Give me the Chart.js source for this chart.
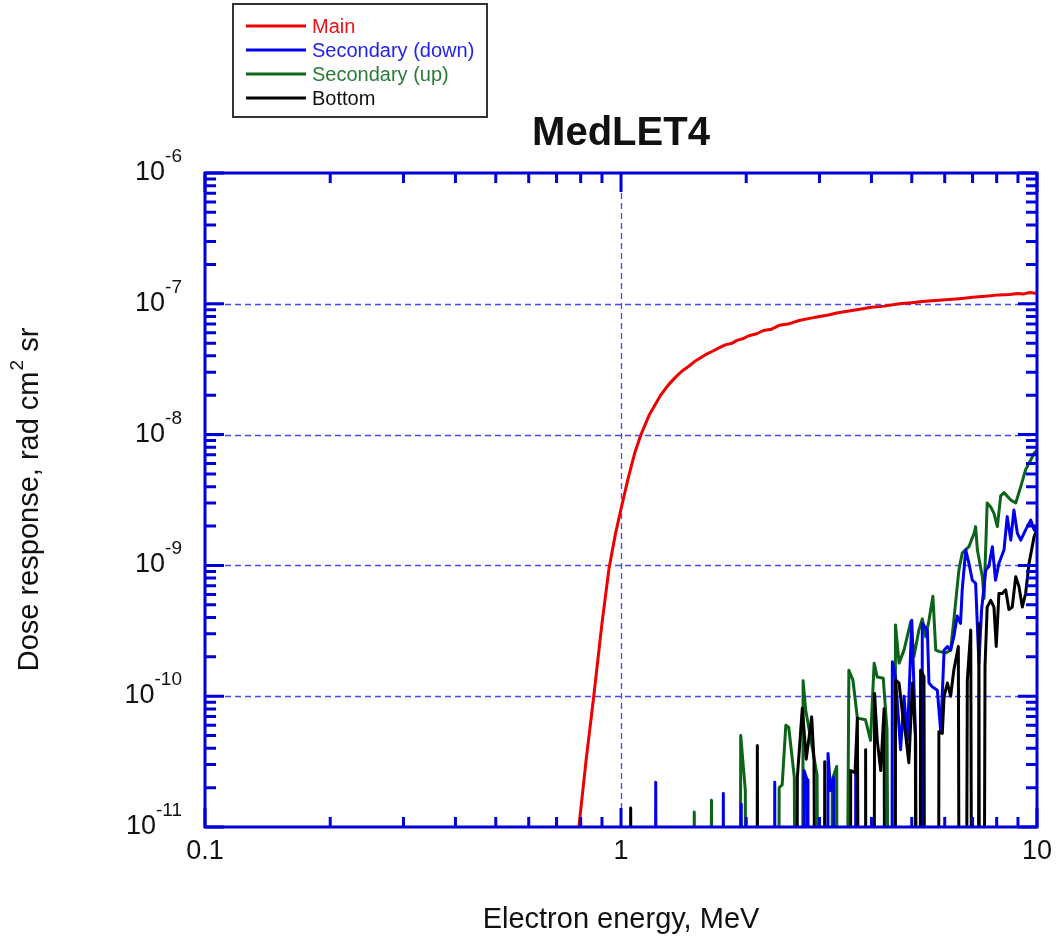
<!DOCTYPE html>
<html>
<head>
  <meta charset="UTF-8">
  <title>MedLET4</title>
  <script src="https://cdn.jsdelivr.net/npm/chart.js"></script>
  <style>
    body {
      margin: 0;
      background: #fff;
    }
    #chartContainer {
      width: 1060px;
      height: 947px;
    }
  </style>
</head>
<body>

  <div id="chartContainer">
    <canvas id="doseChart" width="1060" height="947"></canvas>
  </div>

  <script>
    // [energy in MeV, dose response in rad cm^2 sr]; 0 means below the plotted range
    const mainCurve = [
      [0.77, 4.5e-12], [0.792, 1.0e-11], [0.824, 3.2e-11], [0.86, 1.0e-10], [0.90, 3.6e-10],
      [0.936, 9.5e-10], [0.97, 1.75e-9], [1.0, 2.7e-9], [1.04, 4.6e-9], [1.08, 7.3e-9],
      [1.117, 1.0e-8], [1.17, 1.42e-8], [1.245, 2.0e-8], [1.30, 2.4e-8], [1.353, 2.75e-8],
      [1.40, 3.05e-8], [1.45, 3.3e-8], [1.50, 3.6e-8], [1.54, 3.8e-8], [1.60, 4.1e-8],
      [1.65, 4.3e-8], [1.72, 4.6e-8], [1.78, 4.85e-8], [1.85, 5.0e-8], [1.9, 5.25e-8],
      [1.96, 5.4e-8], [2.03, 5.7e-8], [2.12, 5.9e-8], [2.2, 6.25e-8], [2.3, 6.4e-8],
      [2.4, 6.85e-8], [2.52, 7.0e-8], [2.68, 7.45e-8], [2.82, 7.7e-8], [3.0, 8.0e-8],
      [3.15, 8.2e-8], [3.3, 8.5e-8], [3.53, 8.8e-8], [3.75, 9.1e-8], [4.0, 9.4e-8],
      [4.3, 9.6e-8], [4.66, 1.0e-7], [5.0, 1.02e-7], [5.3, 1.04e-7], [5.7, 1.06e-7],
      [6.15, 1.08e-7], [6.6, 1.1e-7], [7.0, 1.12e-7], [7.5, 1.14e-7], [8.1, 1.17e-7],
      [8.6, 1.18e-7], [9.0, 1.2e-7], [9.3, 1.19e-7], [9.6, 1.22e-7], [10, 1.2e-7]
    ];

    const secondaryDown = [
      [1.20, 0], [1.212, 2.2e-11], [1.225, 0],
      [1.75, 0], [1.762, 1.8e-11], [1.775, 0],
      [1.935, 0], [1.946, 1.5e-11], [1.957, 0],
      [2.33, 0], [2.342, 2.2e-11], [2.355, 0],
      [2.74, 0], [2.754, 2.7e-11], [2.80, 2.3e-11], [2.815, 0],
      [3.13, 0], [3.145, 3.65e-11], [3.19, 1.9e-11], [3.25, 2.4e-11], [3.27, 0],
      [3.65, 0], [3.666, 2.6e-11], [3.68, 0],
      [4.46, 0], [4.49, 1.83e-10], [4.57, 1.4e-10], [4.70, 3.9e-11], [4.79, 1.0e-10],
      [4.88, 4.6e-11], [5.00, 3.8e-10], [5.11, 4.6e-11], [5.16, 0],
      [5.27, 0], [5.30, 3.6e-10], [5.45, 3.2e-10], [5.50, 1.26e-10], [5.60, 1.18e-10],
      [5.76, 1.11e-10], [5.87, 5.35e-11], [5.98, 2.25e-10], [6.09, 2.4e-10], [6.20, 2.25e-10],
      [6.31, 2.85e-10], [6.43, 4.1e-10], [6.55, 3.6e-10], [6.61, 6.5e-10], [6.74, 1.31e-9],
      [6.86, 1.04e-9], [6.99, 7.7e-10], [7.12, 7.3e-10], [7.25, 1.79e-10], [7.36, 4.6e-10],
      [7.53, 9.2e-10], [7.66, 9.8e-10], [7.81, 1.39e-9], [7.95, 7.7e-10], [8.10, 1.04e-9],
      [8.33, 1.31e-9], [8.48, 2.36e-9], [8.65, 1.56e-9], [8.80, 2.65e-9], [8.97, 1.76e-9],
      [9.14, 1.56e-9], [9.39, 1.87e-9], [9.66, 2.22e-9], [9.84, 1.87e-9], [10, 1.95e-9]
    ];

    const secondaryUp = [
      [1.48, 0], [1.50, 1.3e-11], [1.52, 0],
      [1.63, 0], [1.65, 1.6e-11], [1.67, 0],
      [1.92, 0], [1.94, 5.0e-11], [1.99, 1.9e-11], [2.01, 0],
      [2.38, 0], [2.40, 2.0e-11], [2.44, 2.1e-11], [2.49, 6.0e-11], [2.53, 5.8e-11], [2.61, 2.4e-11], [2.65, 0],
      [2.72, 0], [2.74, 1.31e-10], [2.78, 7.8e-11], [2.88, 4.1e-11], [2.96, 2.5e-11], [3.02, 0],
      [3.20, 0], [3.22, 2.3e-11], [3.30, 2.9e-11], [3.33, 0],
      [3.43, 0], [3.53, 1.58e-10], [3.61, 1.33e-10], [3.70, 6.8e-11], [3.87, 6.6e-11],
      [3.98, 4.6e-11], [4.06, 1.79e-10], [4.13, 1.4e-10], [4.27, 1.37e-10], [4.36, 5.5e-11], [4.46, 0],
      [4.51, 0], [4.57, 3.5e-10], [4.66, 1.79e-10], [4.79, 2.25e-10], [4.97, 3.7e-10],
      [5.06, 2.0e-10], [5.20, 3.2e-10], [5.30, 3.9e-10], [5.40, 2.85e-10], [5.50, 3.8e-10],
      [5.62, 5.8e-10], [5.71, 2.25e-10], [5.81, 2.2e-10], [6.03, 2.14e-10], [6.20, 2.25e-10],
      [6.31, 3.8e-10], [6.49, 9.2e-10], [6.61, 1.24e-9], [6.86, 1.39e-9], [7.06, 1.76e-9],
      [7.12, 1.98e-9], [7.19, 1.31e-9], [7.39, 8.2e-10], [7.46, 5.6e-10], [7.59, 3.0e-9],
      [7.74, 2.8e-9], [7.88, 2.5e-9], [8.03, 1.98e-9], [8.18, 3.4e-9], [8.33, 3.6e-9],
      [8.65, 3.16e-9], [8.89, 3.0e-9], [9.14, 4.0e-9], [9.39, 5.4e-9], [9.66, 6.4e-9],
      [9.84, 7.2e-9], [10, 7.6e-9]
    ];

    const bottomCurve = [
      [1.045, 0], [1.055, 1.4e-11], [1.065, 0],
      [2.115, 0], [2.127, 4.2e-11], [2.14, 0],
      [2.64, 0], [2.654, 2.4e-11], [2.728, 8.1e-11], [2.788, 3.3e-11], [2.873, 6.95e-11], [2.91, 3.25e-11], [2.965, 0],
      [3.075, 0], [3.088, 3.15e-11], [3.10, 0],
      [3.55, 0], [3.566, 2.7e-11], [3.652, 2.6e-11], [3.70, 6.8e-11], [3.77, 0],
      [3.86, 0], [3.873, 3.9e-11], [3.89, 0],
      [4.04, 0], [4.07, 1.05e-10], [4.13, 4.6e-11], [4.21, 2.7e-11], [4.29, 8.0e-11], [4.33, 0],
      [4.55, 0], [4.57, 1.33e-10], [4.66, 1.26e-10], [4.74, 7.8e-11], [4.84, 4.9e-11],
      [4.92, 3.1e-11], [5.02, 1.26e-10], [5.10, 5.0e-11], [5.16, 0],
      [5.22, 0], [5.25, 1.58e-10], [5.35, 1.41e-10], [5.40, 0],
      [5.78, 0], [5.81, 5.35e-11], [5.92, 5.2e-11], [5.98, 1.0e-10], [6.09, 1.26e-10],
      [6.20, 1.0e-10], [6.31, 1.58e-10], [6.47, 2.4e-10], [6.55, 0],
      [6.70, 0], [6.80, 1.33e-10], [6.93, 3.2e-10], [7.02, 0],
      [7.20, 0], [7.25, 3.6e-10], [7.31, 0],
      [7.40, 0], [7.50, 1.7e-10], [7.59, 4.8e-10], [7.74, 5.4e-10], [7.88, 4.8e-10],
      [7.98, 2.4e-10], [8.10, 6.1e-10], [8.25, 6.1e-10], [8.41, 6.5e-10], [8.56, 4.6e-10],
      [8.72, 4.8e-10], [8.89, 8.2e-10], [9.05, 6.9e-10], [9.22, 4.8e-10], [9.39, 6.1e-10],
      [9.57, 1.04e-9], [9.84, 1.66e-9], [10, 1.9e-9]
    ];

    const seriesNames = ['Main', 'Secondary (down)', 'Secondary (up)', 'Bottom'];
    const seriesColors = ['#ee0000', '#0000ee', '#0b6418', '#000000'];
    const seriesTextColors = ['#ee1111', '#2222ee', '#2a7a36', '#111111'];

    const xTickValues = [0.1, 1, 10];
    const xTickLabels = ['0.1', '1', '10'];
    const yTickExponents = [-11, -10, -9, -8, -7, -6];

    const FONT = '"Liberation Sans", Arial, sans-serif';
    const frameColor = '#0000dd';
    const FLOOR = 1e-16; // zero readings go far below the axis and get clipped

    function toPoints(rows) {
      return rows.map(([e, d]) => ({ x: e, y: d > 0 ? d : FLOOR }));
    }

    // 1..9 x 10^n between min and max
    function logTicks(min, max) {
      const out = [];
      for (let e = Math.floor(Math.log10(min)); e <= Math.ceil(Math.log10(max)); e++) {
        for (let m = 1; m <= 9; m++) {
          const v = m * Math.pow(10, e);
          if (v >= min * 0.999 && v <= max * 1.001) out.push({ v, major: m === 1 });
        }
      }
      return out;
    }

    const axisDecor = {
      id: 'axisDecor',
      beforeDatasetsDraw(chart) {
        const { ctx, chartArea: a, scales: { x, y } } = chart;
        ctx.save();
        ctx.strokeStyle = 'rgba(50,50,255,0.9)';
        ctx.lineWidth = 1.3;
        ctx.setLineDash([6, 4]);
        ctx.beginPath();
        xTickValues.forEach(v => {
          const px = Math.round(x.getPixelForValue(v)) + 0.5;
          if (px > a.left + 2 && px < a.right - 2) {
            ctx.moveTo(px, a.top);
            ctx.lineTo(px, a.bottom);
          }
        });
        yTickExponents.forEach(n => {
          const py = Math.round(y.getPixelForValue(Math.pow(10, n))) + 0.5;
          if (py > a.top + 2 && py < a.bottom - 2) {
            ctx.moveTo(a.left, py);
            ctx.lineTo(a.right, py);
          }
        });
        ctx.stroke();
        ctx.restore();
      },
      afterDatasetsDraw(chart) {
        const { ctx, chartArea: a, scales: { x, y } } = chart;
        ctx.save();
        ctx.strokeStyle = frameColor;
        ctx.lineWidth = 3;
        ctx.setLineDash([]);
        ctx.beginPath();
        logTicks(x.min, x.max).forEach(t => {
          const px = x.getPixelForValue(t.v);
          const len = t.major ? 19 : 10;
          ctx.moveTo(px, a.bottom); ctx.lineTo(px, a.bottom - len);
          ctx.moveTo(px, a.top); ctx.lineTo(px, a.top + len);
        });
        logTicks(y.min, y.max).forEach(t => {
          const py = y.getPixelForValue(t.v);
          const len = t.major ? 19 : 11;
          ctx.moveTo(a.left, py); ctx.lineTo(a.left + len, py);
          ctx.moveTo(a.right, py); ctx.lineTo(a.right - len, py);
        });
        ctx.stroke();
        ctx.strokeRect(a.left, a.top, a.right - a.left, a.bottom - a.top);
        ctx.restore();
      },
      afterDraw(chart) {
        const { ctx, chartArea: a, scales: { x, y } } = chart;
        const cx = (a.left + a.right) / 2;
        ctx.save();
        ctx.fillStyle = '#111';

        // x tick labels
        ctx.font = '27px ' + FONT;
        ctx.textAlign = 'center';
        ctx.textBaseline = 'alphabetic';
        xTickValues.forEach((v, i) => {
          ctx.fillText(xTickLabels[i], x.getPixelForValue(v), a.bottom + 32);
        });

        // y tick labels: 10 with a raised exponent
        yTickExponents.forEach(n => {
          const py = y.getPixelForValue(Math.pow(10, n));
          const exp = String(n);
          ctx.font = '19px ' + FONT;
          const expW = ctx.measureText(exp).width;
          const right = a.left - 23;
          ctx.textAlign = 'left';
          ctx.fillText(exp, right - expW, py - 11);
          ctx.font = '27px ' + FONT;
          ctx.textAlign = 'right';
          ctx.fillText('10', right - expW, py + 7);
        });

        // axis titles
        ctx.font = '29px ' + FONT;
        ctx.textAlign = 'center';
        ctx.fillText('Electron energy, MeV', cx, 928);

        ctx.translate(30, (a.top + a.bottom) / 2);
        ctx.rotate(-Math.PI / 2);
        const partA = 'Dose response, rad cm';
        const partB = '2';
        const partC = ' sr';
        ctx.font = '29px ' + FONT;
        const wA = ctx.measureText(partA).width;
        const wC = ctx.measureText(partC).width;
        ctx.font = '19px ' + FONT;
        const wB = ctx.measureText(partB).width;
        let sx = -(wA + wB + wC) / 2;
        ctx.textAlign = 'left';
        ctx.textBaseline = 'middle';
        ctx.font = '29px ' + FONT;
        ctx.fillText(partA, sx, 0);
        ctx.font = '19px ' + FONT;
        ctx.fillText(partB, sx + wA + 1, -12);
        ctx.font = '29px ' + FONT;
        ctx.fillText(partC, sx + wA + wB + 1, 0);
        ctx.restore();

        // chart title
        ctx.save();
        ctx.fillStyle = '#111';
        ctx.font = 'bold 40px ' + FONT;
        ctx.textAlign = 'center';
        ctx.textBaseline = 'alphabetic';
        ctx.fillText('MedLET4', cx, 145);

        // legend box
        ctx.strokeStyle = '#333';
        ctx.lineWidth = 2;
        ctx.strokeRect(233, 4, 254, 113);
        ctx.font = '20px ' + FONT;
        ctx.textBaseline = 'middle';
        ctx.textAlign = 'left';
        seriesNames.forEach((name, i) => {
          const ly = 26 + i * 24;
          ctx.strokeStyle = seriesColors[i];
          ctx.lineWidth = 3;
          ctx.beginPath();
          ctx.moveTo(246, ly);
          ctx.lineTo(306, ly);
          ctx.stroke();
          ctx.fillStyle = seriesTextColors[i];
          ctx.fillText(name, 312, ly + 1);
        });
        ctx.restore();
      }
    };

    const allSeries = [mainCurve, secondaryDown, secondaryUp, bottomCurve];
    const drawOrder = [0, 2, 3, 1];

    const ctx = document.getElementById('doseChart').getContext('2d');
    new Chart(ctx, {
      type: 'line',
      data: {
        datasets: allSeries.map((rows, i) => ({
          label: seriesNames[i],
          data: toPoints(rows),
          borderColor: seriesColors[i],
          backgroundColor: seriesColors[i],
          borderWidth: 3,
          borderJoinStyle: 'round',
          pointRadius: 0,
          tension: 0,
          fill: false,
          clip: 0,
          order: drawOrder[i]
        }))
      },
      options: {
        responsive: false,
        animation: false,
        devicePixelRatio: 1,
        layout: { padding: { left: 205, top: 173, right: 23, bottom: 120 } },
        scales: {
          x: { type: 'logarithmic', min: 0.1, max: 10, display: false },
          y: { type: 'logarithmic', min: 1e-11, max: 1e-6, display: false }
        },
        plugins: {
          legend: { display: false },
          tooltip: { enabled: false }
        }
      },
      plugins: [axisDecor]
    });
  </script>

</body>
</html>
